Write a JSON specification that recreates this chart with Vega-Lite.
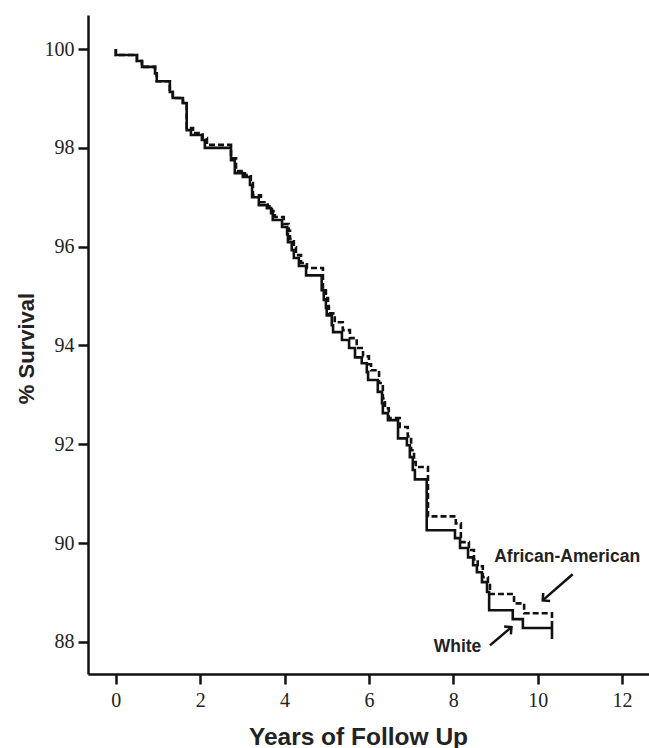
{
  "$schema": "https://vega.github.io/schema/vega-lite/v6.json",
  "width": 561,
  "height": 659,
  "autosize": {"type": "none"},
  "padding": {"left": 88, "top": 15, "right": 0, "bottom": 74},
  "background": "white",
  "config": {
    "view": {"stroke": null},
    "axis": {
      "grid": false,
      "domainColor": "#111",
      "domainWidth": 2.5,
      "tickColor": "#111",
      "tickWidth": 2.5,
      "tickSize": 10,
      "labelFont": "Liberation Sans Narrow",
      "labelFontSize": 20,
      "labelColor": "#222",
      "titleFont": "Liberation Sans",
      "titleFontWeight": "bold",
      "titleColor": "#222"
    }
  },
  "datasets": {
    "km": [
      {"group": "African-American", "t": 0, "s": 100},
      {"group": "African-American", "t": 0, "s": 99.88},
      {"group": "African-American", "t": 0.5, "s": 99.76},
      {"group": "African-American", "t": 0.62, "s": 99.64},
      {"group": "African-American", "t": 0.93, "s": 99.51},
      {"group": "African-American", "t": 0.97, "s": 99.35},
      {"group": "African-American", "t": 1.28, "s": 99.13},
      {"group": "African-American", "t": 1.35, "s": 99.01},
      {"group": "African-American", "t": 1.59, "s": 98.91},
      {"group": "African-American", "t": 1.68, "s": 98.4},
      {"group": "African-American", "t": 1.83, "s": 98.3},
      {"group": "African-American", "t": 2.06, "s": 98.2},
      {"group": "African-American", "t": 2.16, "s": 98.06},
      {"group": "African-American", "t": 2.73, "s": 97.79},
      {"group": "African-American", "t": 2.85, "s": 97.53},
      {"group": "African-American", "t": 3.06, "s": 97.45},
      {"group": "African-American", "t": 3.2, "s": 97.29},
      {"group": "African-American", "t": 3.25, "s": 97.04},
      {"group": "African-American", "t": 3.44, "s": 96.9},
      {"group": "African-American", "t": 3.6, "s": 96.82},
      {"group": "African-American", "t": 3.7, "s": 96.72},
      {"group": "African-American", "t": 3.77, "s": 96.6},
      {"group": "African-American", "t": 3.98, "s": 96.46},
      {"group": "African-American", "t": 4.1, "s": 96.32},
      {"group": "African-American", "t": 4.13, "s": 96.15},
      {"group": "African-American", "t": 4.22, "s": 95.99},
      {"group": "African-American", "t": 4.27, "s": 95.83},
      {"group": "African-American", "t": 4.39, "s": 95.67},
      {"group": "African-American", "t": 4.53, "s": 95.57},
      {"group": "African-American", "t": 4.91, "s": 95.16},
      {"group": "African-American", "t": 4.98, "s": 94.96},
      {"group": "African-American", "t": 5.03, "s": 94.8},
      {"group": "African-American", "t": 5.05, "s": 94.65},
      {"group": "African-American", "t": 5.19, "s": 94.47},
      {"group": "African-American", "t": 5.38, "s": 94.31},
      {"group": "African-American", "t": 5.55, "s": 94.15},
      {"group": "African-American", "t": 5.71, "s": 93.95},
      {"group": "African-American", "t": 5.86, "s": 93.78},
      {"group": "African-American", "t": 6.0, "s": 93.62},
      {"group": "African-American", "t": 6.05, "s": 93.5},
      {"group": "African-American", "t": 6.24, "s": 93.24},
      {"group": "African-American", "t": 6.33, "s": 92.93},
      {"group": "African-American", "t": 6.38, "s": 92.73},
      {"group": "African-American", "t": 6.47, "s": 92.53},
      {"group": "African-American", "t": 6.73, "s": 92.35},
      {"group": "African-American", "t": 6.92, "s": 92.16},
      {"group": "African-American", "t": 7.0, "s": 91.88},
      {"group": "African-American", "t": 7.07, "s": 91.64},
      {"group": "African-American", "t": 7.11, "s": 91.54},
      {"group": "African-American", "t": 7.4, "s": 90.54},
      {"group": "African-American", "t": 8.06, "s": 90.4},
      {"group": "African-American", "t": 8.18, "s": 90.02},
      {"group": "African-American", "t": 8.37, "s": 89.86},
      {"group": "African-American", "t": 8.49, "s": 89.67},
      {"group": "African-American", "t": 8.58, "s": 89.53},
      {"group": "African-American", "t": 8.7, "s": 89.31},
      {"group": "African-American", "t": 8.82, "s": 89.15},
      {"group": "African-American", "t": 8.87, "s": 88.97},
      {"group": "African-American", "t": 9.44, "s": 88.78},
      {"group": "African-American", "t": 9.68, "s": 88.58},
      {"group": "African-American", "t": 10.34, "s": 88.28},
      {"group": "White", "t": 0, "s": 100},
      {"group": "White", "t": 0, "s": 99.88},
      {"group": "White", "t": 0.5, "s": 99.76},
      {"group": "White", "t": 0.62, "s": 99.64},
      {"group": "White", "t": 0.93, "s": 99.51},
      {"group": "White", "t": 0.97, "s": 99.35},
      {"group": "White", "t": 1.28, "s": 99.13},
      {"group": "White", "t": 1.35, "s": 99.01},
      {"group": "White", "t": 1.59, "s": 98.91},
      {"group": "White", "t": 1.68, "s": 98.36},
      {"group": "White", "t": 1.78, "s": 98.26},
      {"group": "White", "t": 2.04, "s": 98.16},
      {"group": "White", "t": 2.11, "s": 98.0},
      {"group": "White", "t": 2.73, "s": 97.75},
      {"group": "White", "t": 2.82, "s": 97.49},
      {"group": "White", "t": 3.01, "s": 97.41},
      {"group": "White", "t": 3.18, "s": 97.25},
      {"group": "White", "t": 3.23, "s": 97.0},
      {"group": "White", "t": 3.39, "s": 96.84},
      {"group": "White", "t": 3.58, "s": 96.78},
      {"group": "White", "t": 3.68, "s": 96.68},
      {"group": "White", "t": 3.72, "s": 96.54},
      {"group": "White", "t": 3.94, "s": 96.4},
      {"group": "White", "t": 4.06, "s": 96.25},
      {"group": "White", "t": 4.08, "s": 96.09},
      {"group": "White", "t": 4.17, "s": 95.93},
      {"group": "White", "t": 4.22, "s": 95.77},
      {"group": "White", "t": 4.34, "s": 95.61},
      {"group": "White", "t": 4.51, "s": 95.42},
      {"group": "White", "t": 4.88, "s": 95.12},
      {"group": "White", "t": 4.93, "s": 94.92},
      {"group": "White", "t": 4.98, "s": 94.76},
      {"group": "White", "t": 5.0, "s": 94.61},
      {"group": "White", "t": 5.12, "s": 94.41},
      {"group": "White", "t": 5.15, "s": 94.27},
      {"group": "White", "t": 5.36, "s": 94.11},
      {"group": "White", "t": 5.53, "s": 93.95},
      {"group": "White", "t": 5.67, "s": 93.76},
      {"group": "White", "t": 5.83, "s": 93.64},
      {"group": "White", "t": 5.95, "s": 93.46},
      {"group": "White", "t": 5.98, "s": 93.3},
      {"group": "White", "t": 6.21, "s": 93.06},
      {"group": "White", "t": 6.31, "s": 92.83},
      {"group": "White", "t": 6.33, "s": 92.63},
      {"group": "White", "t": 6.45, "s": 92.49},
      {"group": "White", "t": 6.69, "s": 92.12},
      {"group": "White", "t": 6.9, "s": 91.98},
      {"group": "White", "t": 6.97, "s": 91.74},
      {"group": "White", "t": 7.04, "s": 91.48},
      {"group": "White", "t": 7.09, "s": 91.29},
      {"group": "White", "t": 7.37, "s": 90.26},
      {"group": "White", "t": 8.04, "s": 90.1},
      {"group": "White", "t": 8.16, "s": 89.9},
      {"group": "White", "t": 8.35, "s": 89.71},
      {"group": "White", "t": 8.47, "s": 89.55},
      {"group": "White", "t": 8.56, "s": 89.41},
      {"group": "White", "t": 8.68, "s": 89.21},
      {"group": "White", "t": 8.8, "s": 89.01},
      {"group": "White", "t": 8.85, "s": 88.64},
      {"group": "White", "t": 9.41, "s": 88.46},
      {"group": "White", "t": 9.65, "s": 88.28},
      {"group": "White", "t": 10.34, "s": 88.06}
    ],
    "notes": [
      {"label": "African-American", "t": 10.7, "s": 89.72},
      {"label": "White", "t": 8.1, "s": 87.9}
    ],
    "arrows": [
      {"label": "African-American", "t": 10.83, "s": 89.37, "t2": 10.12, "s2": 88.84},
      {"label": "White", "t": 8.87, "s": 87.93, "t2": 9.38, "s2": 88.3}
    ]
  },
  "layer": [
    {
      "data": {"name": "km"},
      "mark": {"type": "line", "interpolate": "step-after", "color": "#111", "strokeWidth": 2.6},
      "encoding": {
        "x": {
          "field": "t", "type": "quantitative",
          "scale": {"domain": [-0.66, 12.64], "nice": false, "zero": false},
          "axis": {"values": [0, 2, 4, 6, 8, 10, 12], "title": "Years of Follow Up", "titleFontSize": 24.5, "labelPadding": 6, "titlePadding": 15, "titleX": 270}
        },
        "y": {
          "field": "s", "type": "quantitative",
          "scale": {"domain": [87.35, 100.69], "nice": false, "zero": false},
          "axis": {"values": [88, 90, 92, 94, 96, 98, 100], "title": "% Survival", "titleFontSize": 22, "labelPadding": 4, "titlePadding": 6, "titleY": 333}
        },
        "strokeDash": {
          "field": "group", "type": "nominal",
          "scale": {"domain": ["African-American", "White"], "range": [[6, 3], [1, 0]]},
          "legend": null
        },
        "order": {"field": "t", "type": "quantitative"}
      }
    },
    {
      "mark": {"type": "rule", "color": "#111", "strokeWidth": 2.5},
      "encoding": {
        "y": {"datum": 100.69, "type": "quantitative"}
      }
    },
    {
      "data": {"name": "notes"},
      "mark": {"type": "text", "font": "Liberation Sans", "fontWeight": "bold", "fontSize": 17.5, "color": "#222"},
      "encoding": {
        "x": {"field": "t", "type": "quantitative"},
        "y": {"field": "s", "type": "quantitative"},
        "text": {"field": "label"}
      }
    },
    {
      "data": {"name": "arrows"},
      "mark": {"type": "rule", "color": "#111", "strokeWidth": 2.5},
      "encoding": {
        "x": {"field": "t", "type": "quantitative"},
        "y": {"field": "s", "type": "quantitative"},
        "x2": {"field": "t2"},
        "y2": {"field": "s2"}
      }
    },
    {
      "data": {"name": "arrows"},
      "transform": [{"filter": "datum.label === 'African-American'"}],
      "mark": {"type": "point", "shape": "M-1,1L0,0L1,1", "filled": false, "color": "#111", "strokeWidth": 2.5, "size": 110, "angle": 229, "opacity": 1},
      "encoding": {
        "x": {"field": "t2", "type": "quantitative"},
        "y": {"field": "s2", "type": "quantitative"}
      }
    },
    {
      "data": {"name": "arrows"},
      "transform": [{"filter": "datum.label === 'White'"}],
      "mark": {"type": "point", "shape": "M-1,1L0,0L1,1", "filled": false, "color": "#111", "strokeWidth": 2.5, "size": 110, "angle": 50, "opacity": 1},
      "encoding": {
        "x": {"field": "t2", "type": "quantitative"},
        "y": {"field": "s2", "type": "quantitative"}
      }
    }
  ]
}
